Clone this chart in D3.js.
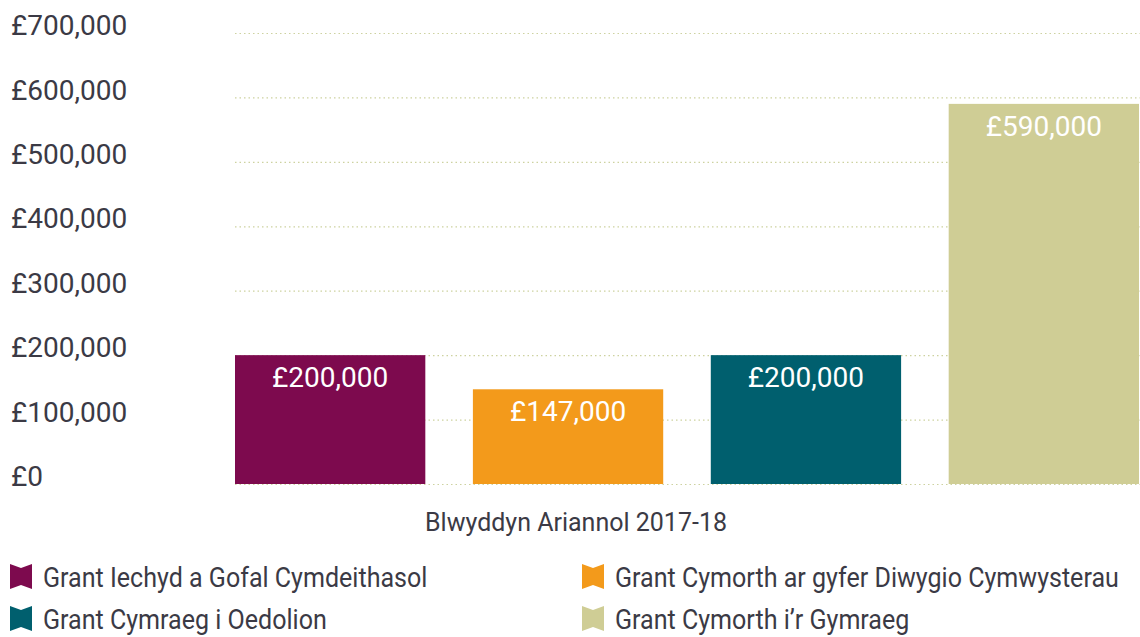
<!DOCTYPE html>
<html>
<head>
<meta charset="utf-8">
<script src="https://cdn.jsdelivr.net/npm/d3@7"></script>
<style>
  body { margin: 0; background: #fff; }
  text { font-family: Roboto, "Noto Sans", sans-serif; }
</style>
</head>
<body>
<svg id="chart" width="1140" height="637"></svg>
<script>
// data
const grants = ['Grant Iechyd a Gofal Cymdeithasol', 'Grant Cymorth ar gyfer Diwygio Cymwysterau', 'Grant Cymraeg i Oedolion', 'Grant Cymorth i\u2019r Gymraeg']
const amounts = [200000, 147000, 200000, 590000]
const colours = ['#7d0a4e', '#f39a1b', '#005f6e', '#cfcd95']
const yTicks = [0, 100000, 200000, 300000, 400000, 500000, 600000, 700000]
const xTitle = 'Blwyddyn Ariannol 2017-18'

const svg = d3.select('#chart')
const margin = { left: 235, right: 1, top: 33, bottom: 484 }
const textCol = '#3b3a45'
const money = v => '£' + d3.format(',')(v)

const x = d3.scaleBand()
    .domain(grants)
    .range([margin.left, 1140 - margin.right])
    .paddingInner(0.2)
    .paddingOuter(0)

const y = d3.scaleLinear()
    .domain([0, 700000])
    .range([margin.bottom, margin.top])

// gridlines
svg.append('g')
    .selectAll('line')
    .data(yTicks)
    .join('line')
    .attr('x1', margin.left)
    .attr('x2', 1140)
    .attr('y1', d => y(d) + 0.5)
    .attr('y2', d => y(d) + 0.5)
    .attr('stroke', '#cdd2a0')
    .attr('stroke-width', 1.2)
    .attr('stroke-dasharray', '1.5,3')

// y axis labels (sit a little above their gridline)
svg.append('g')
    .selectAll('text')
    .data(yTicks)
    .join('text')
    .text(d => money(d))
    .attr('x', 11)
    .attr('y', d => y(d) - 8)
    .attr('dy', '0.36em')
    .attr('font-size', 28)
    .attr('fill', textCol)

// bars
svg.append('g')
    .selectAll('rect')
    .data(grants)
    .join('rect')
    .attr('x', d => x(d))
    .attr('width', x.bandwidth())
    .attr('y', (d, i) => y(amounts[i]))
    .attr('height', (d, i) => y(0) - y(amounts[i]))
    .attr('fill', (d, i) => colours[i])

// value labels
svg.append('g')
    .selectAll('text')
    .data(grants)
    .join('text')
    .text((d, i) => money(amounts[i]))
    .attr('x', d => x(d) + x.bandwidth() / 2)
    .attr('y', (d, i) => y(amounts[i]) + 32)
    .attr('text-anchor', 'middle')
    .attr('font-size', 28)
    .attr('fill', '#fff')

// x title
svg.append('text')
    .text(xTitle)
    .attr('x', 576)
    .attr('y', 531)
    .attr('text-anchor', 'middle')
    .attr('font-size', 25)
    .attr('fill', textCol)

// legend
const legendPos = [[10, 577], [582, 577], [10, 619], [582, 619]]
const order = [0, 1, 2, 3]
const lg = svg.append('g')
    .selectAll('g')
    .data(order)
    .join('g')
    .attr('transform', (d, i) => `translate(${legendPos[i][0]},${legendPos[i][1]})`)

lg.append('path')
    .attr('d', 'M0,-13 L11,-9 L22,-13 L22,12 L11,8 L0,12 Z')
    .attr('fill', d => colours[d])

// reference font is narrower, squeeze the text a bit
lg.append('text')
    .text(d => grants[d])
    .attr('transform', 'translate(33,0) scale(0.895,1)')
    .attr('dy', '0.36em')
    .attr('font-size', 28)
    .attr('fill', textCol)
</script>
</body>
</html>
